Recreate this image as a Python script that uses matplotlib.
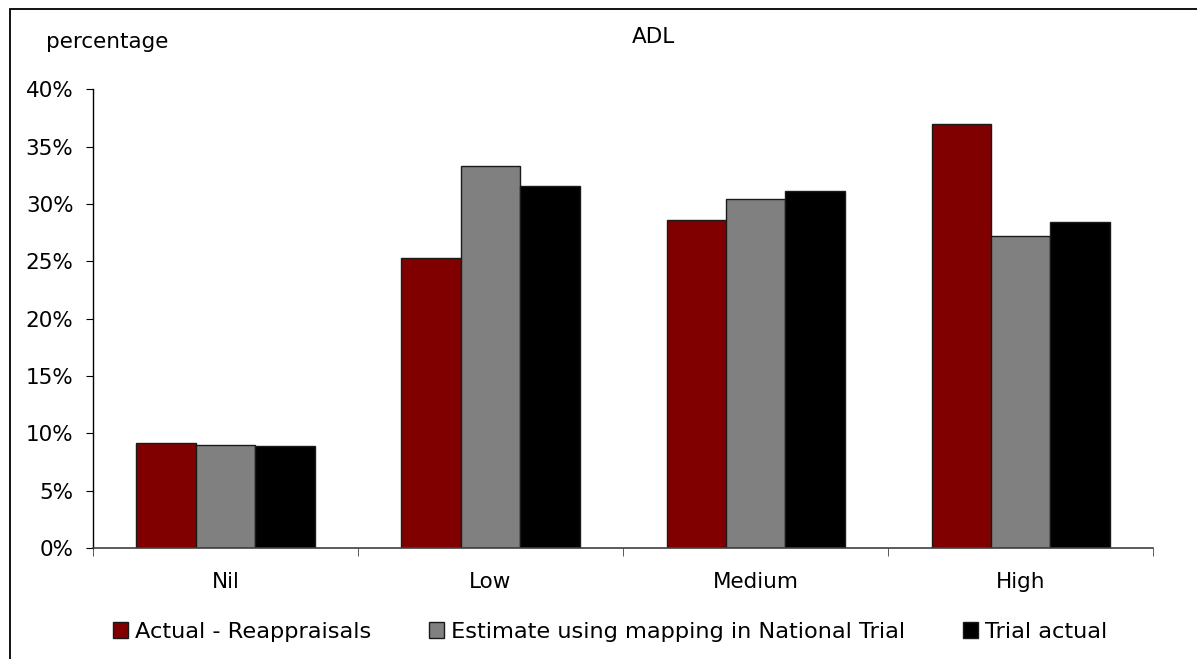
import matplotlib

matplotlib.use("Agg")
import matplotlib.pyplot as plt
from matplotlib.patches import Rectangle
from matplotlib.ticker import FuncFormatter

categories = ["Nil", "Low", "Medium", "High"]
actual_reappraisals = [9.2, 25.3, 28.6, 37.0]
estimate_national_trial = [9.0, 33.3, 30.4, 27.2]
trial_actual = [8.9, 31.6, 31.1, 28.4]

series_labels = [
    "Actual - Reappraisals",
    "Estimate using mapping in National Trial",
    "Trial actual",
]
series_colors = ["#800000", "#808080", "#000000"]
y_ticks = [0, 5, 10, 15, 20, 25, 30, 35, 40]


def main():
    plt.rcParams["font.family"] = ["DejaVu Sans"]
    font_size = 15.5
    legend_size = 16.2

    fig = plt.figure(figsize=(11.97, 6.59), dpi=100)
    ax = fig.add_axes([0.0777, 0.1684, 0.8856, 0.6961])

    series = [actual_reappraisals, estimate_national_trial, trial_actual]
    bar_width = 0.224
    centers = [i + 0.5 for i in range(len(categories))]

    for index, (values, label, color) in enumerate(zip(series, series_labels, series_colors)):
        offset = (index - 1) * bar_width
        ax.bar(
            [c + offset for c in centers],
            [v / 100 for v in values],
            width=bar_width,
            color=color,
            edgecolor="#1a1a1a",
            linewidth=1.0,
            label=label,
        )

    ax.set_xlim(0, len(categories))
    ax.set_ylim(0, 0.40)
    ax.set_yticks([t / 100 for t in y_ticks])
    ax.yaxis.set_major_formatter(FuncFormatter(lambda v, _: f"{v * 100:.0f}%"))

    ax.set_xticks(centers)
    ax.set_xticklabels(categories)
    ax.set_xticks(range(len(categories) + 1), minor=True)
    ax.tick_params(axis="x", which="major", length=0, pad=17.5, labelsize=font_size)
    ax.tick_params(axis="x", which="minor", length=6, direction="out", color="#404040")
    ax.tick_params(axis="y", length=5, direction="out", pad=9, labelsize=font_size)

    ax.spines["top"].set_visible(False)
    ax.spines["right"].set_visible(False)
    ax.spines["left"].set_linewidth(1.0)
    ax.spines["bottom"].set_color("#404040")
    ax.spines["bottom"].set_linewidth(1.2)

    fig.text(46 / 1197, 1 - 42 / 659, "percentage", ha="left", va="center", fontsize=font_size)
    fig.text(653 / 1197, 1 - 37 / 659, "ADL", ha="center", va="center", fontsize=font_size)

    fig.legend(
        loc="center",
        bbox_to_anchor=(610 / 1197, 1 - 632 / 659),
        ncol=3,
        frameon=False,
        fontsize=legend_size,
        handlelength=0.7,
        handleheight=0.7,
        handletextpad=0.3,
        columnspacing=2.55,
    )

    # chart border, only the left and top edges fall inside the canvas
    fig.patches.append(
        Rectangle(
            (10 / 1197, -0.1),
            1.2,
            1 - 9 / 659 + 0.1,
            transform=fig.transFigure,
            fill=False,
            edgecolor="black",
            linewidth=1.3,
        )
    )

    fig.savefig("out.png", dpi=100)
    plt.close(fig)


if __name__ == "__main__":
    main()
